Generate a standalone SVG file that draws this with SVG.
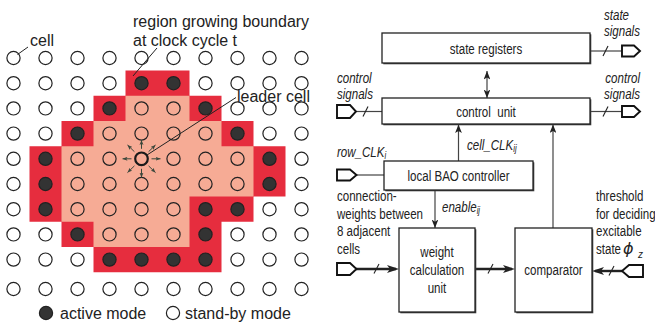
<svg xmlns="http://www.w3.org/2000/svg" width="655" height="322" viewBox="0 0 655 322">
<defs>
<style>
text{font-family:"Liberation Sans",Arial,sans-serif;fill:#222}
.l{font-size:16px}
.r{font-size:15px}
.it{font-style:italic;font-size:15px}
.sub{font-size:10px;font-style:italic}
.o{fill:none;stroke:#222;stroke-width:1.2}
.f{fill:#333;stroke:#222;stroke-width:1.2}
.box{fill:#fff;stroke:#222;stroke-width:1.3}
.sh{fill:#444}
.ln{fill:none;stroke:#444;stroke-width:1.2}
.ptr{fill:none;stroke:#222;stroke-width:1}
.thick{fill:none;stroke:#222;stroke-width:2.4}
.port{fill:#fff;stroke:#111;stroke-width:1.9;stroke-linejoin:miter}
.sl{fill:none;stroke:#222;stroke-width:1.1}
.lead{fill:none;stroke:#3b473b;stroke-width:1}
</style>
<circle id="oc" r="6.6" class="o"/>
<circle id="fc" r="6.6" class="f"/>
<marker id="a" viewBox="0 0 10 8" refX="10" refY="4" markerWidth="8.5" markerHeight="6.8" markerUnits="userSpaceOnUse" orient="auto-start-reverse"><path d="M0,0L10,4L0,8L2.5,4z" fill="#222"/></marker>
<marker id="ab" viewBox="0 0 12 8" refX="9" refY="4" markerWidth="12" markerHeight="8" markerUnits="userSpaceOnUse" orient="auto"><path d="M0,0L12,4L0,8L3,4z" fill="#222"/></marker>
<marker id="as" viewBox="0 0 10 8" refX="10" refY="4" markerWidth="5" markerHeight="4.4" markerUnits="userSpaceOnUse" orient="auto"><path d="M0,0L10,4L0,8L2.5,4z" fill="#3b473b"/></marker>
</defs>

<g id="grid-panel">
<path d="M125.5,70.6H189.5V95.8H221.5V121H253.5V146.2H285.5V196.6H253.5V221.8H221.5V272.2H93.5V247H61.5V221.8H29.5V146.2H61.5V121H93.5V95.8H125.5Z" fill="#e62d3e"/>
<path d="M125.5,95.8H189.5V121H221.5V146.2H253.5V196.6H189.5V247H93.5V221.8H61.5V146.2H93.5V121H125.5Z" fill="#f6ab95"/>
<g id="open-cells">
<use href="#oc" x="13.5" y="58"/><use href="#oc" x="45.5" y="58"/><use href="#oc" x="77.5" y="58"/><use href="#oc" x="109.5" y="58"/><use href="#oc" x="141.5" y="58"/><use href="#oc" x="173.5" y="58"/><use href="#oc" x="205.5" y="58"/><use href="#oc" x="237.5" y="58"/><use href="#oc" x="269.5" y="58"/><use href="#oc" x="301.5" y="58"/>
<use href="#oc" x="13.5" y="83.2"/><use href="#oc" x="45.5" y="83.2"/><use href="#oc" x="77.5" y="83.2"/><use href="#oc" x="109.5" y="83.2"/><use href="#oc" x="205.5" y="83.2"/><use href="#oc" x="237.5" y="83.2"/><use href="#oc" x="269.5" y="83.2"/><use href="#oc" x="301.5" y="83.2"/>
<use href="#oc" x="13.5" y="108.4"/><use href="#oc" x="45.5" y="108.4"/><use href="#oc" x="77.5" y="108.4"/><use href="#oc" x="141.5" y="108.4"/><use href="#oc" x="173.5" y="108.4"/><use href="#oc" x="237.5" y="108.4"/><use href="#oc" x="269.5" y="108.4"/><use href="#oc" x="301.5" y="108.4"/>
<use href="#oc" x="13.5" y="133.6"/><use href="#oc" x="45.5" y="133.6"/><use href="#oc" x="109.5" y="133.6"/><use href="#oc" x="141.5" y="133.6"/><use href="#oc" x="173.5" y="133.6"/><use href="#oc" x="205.5" y="133.6"/><use href="#oc" x="269.5" y="133.6"/><use href="#oc" x="301.5" y="133.6"/>
<use href="#oc" x="13.5" y="158.8"/><use href="#oc" x="77.5" y="158.8"/><use href="#oc" x="109.5" y="158.8"/><use href="#oc" x="173.5" y="158.8"/><use href="#oc" x="205.5" y="158.8"/><use href="#oc" x="237.5" y="158.8"/><use href="#oc" x="301.5" y="158.8"/>
<use href="#oc" x="13.5" y="184"/><use href="#oc" x="77.5" y="184"/><use href="#oc" x="109.5" y="184"/><use href="#oc" x="141.5" y="184"/><use href="#oc" x="173.5" y="184"/><use href="#oc" x="205.5" y="184"/><use href="#oc" x="237.5" y="184"/><use href="#oc" x="301.5" y="184"/>
<use href="#oc" x="13.5" y="209.2"/><use href="#oc" x="77.5" y="209.2"/><use href="#oc" x="109.5" y="209.2"/><use href="#oc" x="141.5" y="209.2"/><use href="#oc" x="173.5" y="209.2"/><use href="#oc" x="269.5" y="209.2"/><use href="#oc" x="301.5" y="209.2"/>
<use href="#oc" x="13.5" y="234.4"/><use href="#oc" x="45.5" y="234.4"/><use href="#oc" x="109.5" y="234.4"/><use href="#oc" x="141.5" y="234.4"/><use href="#oc" x="173.5" y="234.4"/><use href="#oc" x="237.5" y="234.4"/><use href="#oc" x="269.5" y="234.4"/><use href="#oc" x="301.5" y="234.4"/>
<use href="#oc" x="13.5" y="259.6"/><use href="#oc" x="45.5" y="259.6"/><use href="#oc" x="77.5" y="259.6"/><use href="#oc" x="237.5" y="259.6"/><use href="#oc" x="269.5" y="259.6"/><use href="#oc" x="301.5" y="259.6"/>
<use href="#oc" x="13.5" y="289"/><use href="#oc" x="45.5" y="289"/><use href="#oc" x="77.5" y="289"/><use href="#oc" x="109.5" y="289"/><use href="#oc" x="141.5" y="289"/><use href="#oc" x="173.5" y="289"/><use href="#oc" x="205.5" y="289"/><use href="#oc" x="237.5" y="289"/><use href="#oc" x="269.5" y="289"/><use href="#oc" x="301.5" y="289"/>
</g>
<g id="active-cells">
<use href="#fc" x="141.5" y="83.2"/><use href="#fc" x="173.5" y="83.2"/>
<use href="#fc" x="109.5" y="108.4"/><use href="#fc" x="205.5" y="108.4"/>
<use href="#fc" x="77.5" y="133.6"/><use href="#fc" x="237.5" y="133.6"/>
<use href="#fc" x="45.5" y="158.8"/><use href="#fc" x="269.5" y="158.8"/>
<use href="#fc" x="45.5" y="184"/><use href="#fc" x="269.5" y="184"/>
<use href="#fc" x="45.5" y="209.2"/><use href="#fc" x="205.5" y="209.2"/><use href="#fc" x="237.5" y="209.2"/>
<use href="#fc" x="77.5" y="234.4"/><use href="#fc" x="205.5" y="234.4"/>
<use href="#fc" x="109.5" y="259.6"/><use href="#fc" x="141.5" y="259.6"/><use href="#fc" x="173.5" y="259.6"/><use href="#fc" x="205.5" y="259.6"/>
</g>
<g id="leader-cell">
<circle cx="141.5" cy="158.8" r="6.3" fill="none" stroke="#1a1a1a" stroke-width="2.2"/>
<g class="lead" marker-end="url(#as)">
<line x1="141.5" y1="148.8" x2="141.5" y2="140"/>
<line x1="141.5" y1="168.8" x2="141.5" y2="177.6"/>
<line x1="131.5" y1="158.8" x2="122.5" y2="158.8"/>
<line x1="151.5" y1="158.8" x2="160.5" y2="158.8"/>
<line x1="134.4" y1="151.7" x2="127.5" y2="145"/>
<line x1="148.6" y1="151.7" x2="155.5" y2="145"/>
<line x1="134.4" y1="165.9" x2="127.5" y2="172.6"/>
<line x1="148.6" y1="165.9" x2="155.5" y2="172.6"/>
</g>
</g>
<g id="grid-labels">
<line class="ptr" x1="17.5" y1="54.5" x2="28" y2="47"/>
<text class="l" x="30" y="46">cell</text>
<line class="ptr" x1="157" y1="48" x2="133" y2="76"/>
<text class="l" x="133" y="27">region growing boundary</text>
<text class="l" x="133" y="46">at clock cycle t</text>
<line class="ptr" x1="236" y1="97.5" x2="147" y2="155"/>
<text class="l" x="237" y="102">leader cell</text>
</g>
<g id="legend">
<use href="#fc" x="46" y="313"/>
<text class="l" x="60" y="318.5">active mode</text>
<use href="#oc" x="173" y="313"/>
<text class="l" x="185" y="318.5">stand-by mode</text>
</g>
</g>

<g id="connectors">
<line class="ln" x1="487" y1="71" x2="487" y2="98" marker-start="url(#a)" marker-end="url(#a)"/>
<line class="ln" x1="356" y1="111.5" x2="382" y2="111.5"/>
<line class="sl" x1="363" y1="116.5" x2="368" y2="106.5"/>
<line class="ln" x1="590" y1="51" x2="622" y2="51"/>
<line class="sl" x1="603" y1="56" x2="608" y2="46"/>
<line class="ln" x1="590" y1="111.5" x2="622" y2="111.5"/>
<line class="sl" x1="603" y1="116.5" x2="608" y2="106.5"/>
<line class="ln" x1="357" y1="175" x2="384" y2="175"/>
<line class="ln" x1="458.5" y1="161" x2="458.5" y2="124.5" marker-end="url(#a)"/>
<line class="ln" x1="553" y1="228" x2="553" y2="124.5" marker-end="url(#a)"/>
<line class="ln" x1="435" y1="190" x2="435" y2="228" marker-end="url(#a)"/>
<line class="thick" x1="356" y1="269" x2="396" y2="269" marker-end="url(#ab)"/>
<line class="sl" x1="374" y1="273.5" x2="379" y2="264"/>
<line class="thick" x1="475" y1="269" x2="512" y2="269" marker-end="url(#ab)"/>
<line class="sl" x1="488" y1="273.5" x2="493" y2="264"/>
<line class="thick" x1="622" y1="271" x2="595" y2="271" marker-end="url(#ab)"/>
<line class="sl" x1="609" y1="275.5" x2="614" y2="266"/>
</g>

<g id="state-registers">
<rect class="sh" x="383.3" y="34.3" width="208" height="30"/>
<rect class="box" x="382" y="33" width="208" height="30"/>
<text class="r" transform="translate(486,54) scale(.77 1)" text-anchor="middle">state registers</text>
</g>
<g id="control-unit">
<rect class="sh" x="383.3" y="99.3" width="208" height="26"/>
<rect class="box" x="382" y="98" width="208" height="26"/>
<text class="r" transform="translate(486,117) scale(.77 1)" text-anchor="middle" xml:space="preserve">control  unit</text>
</g>
<g id="local-bao-controller">
<rect class="sh" x="385.3" y="162.3" width="149" height="29"/>
<rect class="box" x="384" y="161" width="149" height="29"/>
<text class="r" transform="translate(458.5,180.5) scale(.77 1)" text-anchor="middle">local BAO controller</text>
</g>
<g id="weight-calculation-unit">
<rect class="sh" x="400.3" y="229.3" width="76" height="84"/>
<rect class="box" x="399" y="228" width="76" height="84"/>
<text class="r" transform="translate(437,256.5) scale(.77 1)" text-anchor="middle">weight</text>
<text class="r" transform="translate(437,274.5) scale(.77 1)" text-anchor="middle">calculation</text>
<text class="r" transform="translate(437,293) scale(.77 1)" text-anchor="middle">unit</text>
</g>
<g id="comparator">
<rect class="sh" x="516.3" y="229.3" width="77" height="84"/>
<rect class="box" x="515" y="228" width="77" height="84"/>
<text class="r" transform="translate(553.5,275) scale(.77 1)" text-anchor="middle">comparator</text>
</g>

<g id="port-control-in">
<path class="port" d="M337,105H350L356,111.5L350,118H337Z"/>
<text class="it" transform="translate(337,83) scale(.77 1)">control</text>
<text class="it" transform="translate(337,98.5) scale(.77 1)">signals</text>
</g>
<g id="port-state-out">
<path class="port" d="M622,45.5H634L640,51L634,56.5H622Z"/>
<text class="it" transform="translate(604,20) scale(.77 1)">state</text>
<text class="it" transform="translate(604,36) scale(.77 1)">signals</text>
</g>
<g id="port-control-out">
<path class="port" d="M622,106H634L640,111.5L634,117H622Z"/>
<text class="it" transform="translate(640,83) scale(.77 1)" text-anchor="end">control</text>
<text class="it" transform="translate(640,98.5) scale(.77 1)" text-anchor="end">signals</text>
</g>
<g id="port-row-clk">
<path class="port" d="M337,169.5H350L356.5,175L350,180.5H337Z"/>
<text class="it" transform="translate(337,157) scale(.77 1)">row_CLK<tspan class="sub" dy="2">i</tspan></text>
</g>
<g id="label-cell-clk">
<text class="it" transform="translate(467,150) scale(.77 1)">cell_CLK<tspan class="sub" dy="2">ij</tspan></text>
</g>
<g id="label-enable">
<text class="it" transform="translate(442,212) scale(.77 1)">enable<tspan class="sub" dy="2">ij</tspan></text>
</g>
<g id="port-weights-in">
<path class="port" d="M337,263H350L356.5,269L350,275H337Z"/>
<text class="r" transform="translate(337,201) scale(.77 1)">connection-</text>
<text class="r" transform="translate(337,218.5) scale(.77 1)">weights between</text>
<text class="r" transform="translate(337,236) scale(.77 1)">8 adjacent</text>
<text class="r" transform="translate(337,253.5) scale(.77 1)">cells</text>
</g>
<g id="port-threshold-in">
<path class="port" d="M643,265H629L622,271L629,277H643Z"/>
<text class="r" transform="translate(596,201) scale(.77 1)">threshold</text>
<text class="r" transform="translate(596,218.5) scale(.77 1)">for deciding</text>
<text class="r" transform="translate(596,236) scale(.77 1)">excitable</text>
<text class="r" transform="translate(596,253.5) scale(.77 1)">state</text>
<text transform="translate(623,253.5)" style="font-family:'DejaVu Sans',sans-serif;font-style:italic;font-size:16px">ϕ</text>
<text class="sub" x="638" y="258">z</text>
</g>
</svg>
